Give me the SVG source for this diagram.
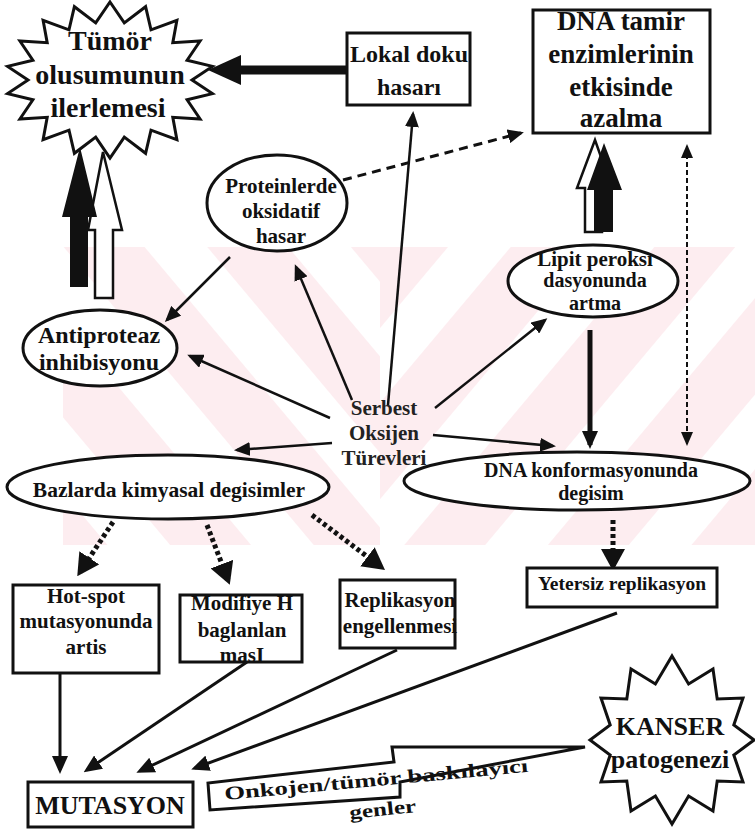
<svg xmlns="http://www.w3.org/2000/svg" width="755" height="835" viewBox="0 0 755 835">
<defs>
<style>
.t{font-family:"Liberation Serif","Times New Roman",serif;font-weight:bold;fill:#111;text-anchor:middle}
.ts{text-anchor:start}
.g2{fill:#222}
.sh{fill:#fff;stroke:#111;stroke-width:3}
.ln{fill:none;stroke:#111;stroke-width:2.5;marker-end:url(#ah)}
.dot{fill:none;stroke:#111;stroke-width:5;stroke-dasharray:4 3;marker-end:url(#ahb)}
</style>
<marker id="ah" viewBox="0 0 16 14" refX="13" refY="7" markerWidth="16" markerHeight="14" markerUnits="userSpaceOnUse" orient="auto"><path d="M0,0 L16,7 L0,14 z" fill="#111"/></marker>
<marker id="ahm" viewBox="0 0 18 16" refX="14" refY="8" markerWidth="18" markerHeight="16" markerUnits="userSpaceOnUse" orient="auto"><path d="M0,0 L18,8 L0,16 z" fill="#111"/></marker>
<marker id="ahd" viewBox="0 0 14 12" refX="12" refY="6" markerWidth="14" markerHeight="12" markerUnits="userSpaceOnUse" orient="auto-start-reverse"><path d="M0,0 L14,6 L0,12 z" fill="#111"/></marker>
<marker id="ahb" viewBox="0 0 22 24" refX="17" refY="12" markerWidth="22" markerHeight="24" markerUnits="userSpaceOnUse" orient="auto"><path d="M0,0 L22,12 L0,24 z" fill="#111"/></marker>
<pattern id="wmL" width="110" height="110" patternUnits="userSpaceOnUse" patternTransform="rotate(-40)"><rect width="62" height="110" fill="#fdedf0"/></pattern>
<pattern id="wmR" width="110" height="110" patternUnits="userSpaceOnUse" patternTransform="rotate(40)"><rect width="62" height="110" fill="#fdedf0"/></pattern>
</defs>
<rect width="755" height="835" fill="#fff"/>
<g id="watermark">
<rect x="63" y="247" width="317" height="298" fill="url(#wmL)"/>
<rect x="380" y="247" width="375" height="298" fill="url(#wmR)"/>
</g>

<g id="connectors">
<line x1="347" y1="70" x2="236" y2="70" stroke="#111" stroke-width="9"/>
<polygon points="208,70 241,55 241,85" fill="#111"/>
<line class="ln" x1="388" y1="405" x2="413" y2="114"/>
<line class="ln" x1="352" y1="400" x2="296" y2="267"/>
<line class="ln" x1="230" y1="257" x2="167" y2="320"/>
<line class="ln" x1="330" y1="418" x2="190" y2="356"/>
<line class="ln" x1="332" y1="443" x2="237" y2="450"/>
<line class="ln" x1="435" y1="408" x2="545" y2="320"/>
<line class="ln" x1="433" y1="435" x2="553" y2="446"/>
<line x1="590" y1="330" x2="590" y2="445" stroke="#111" stroke-width="5" marker-end="url(#ahm)"/>
<line x1="343" y1="180" x2="521" y2="133" stroke="#111" stroke-width="3" stroke-dasharray="9 6" marker-end="url(#ah)"/>
<line x1="687" y1="146" x2="687" y2="444" stroke="#111" stroke-width="2" stroke-dasharray="5 3" marker-start="url(#ahd)" marker-end="url(#ahd)"/>
<line class="dot" x1="113" y1="522" x2="80" y2="572"/>
<line class="dot" x1="207" y1="525" x2="228" y2="580"/>
<line class="dot" x1="312" y1="515" x2="381" y2="567"/>
<line class="dot" x1="613" y1="520" x2="613" y2="566"/>
<line x1="60" y1="673" x2="60" y2="770" stroke="#111" stroke-width="3" marker-end="url(#ahm)"/>
<line x1="247" y1="662" x2="87" y2="770" stroke="#111" stroke-width="3" marker-end="url(#ahm)"/>
<line x1="397" y1="650" x2="140" y2="771" stroke="#111" stroke-width="3" marker-end="url(#ahm)"/>
<line x1="617" y1="613" x2="195" y2="768" stroke="#111" stroke-width="3" marker-end="url(#ahm)"/>
<polygon points="103,152 122,230 113,230 113,298 95,298 95,230 88,230" fill="#fff" stroke="#111" stroke-width="2.5"/>
<polygon points="80,147 97,217 88,217 88,287 70,287 70,217 62,217" fill="#111"/>
<polygon points="595,140 612,188 602,188 602,232 585,232 585,188 577,188" fill="#fff" stroke="#111" stroke-width="2.5"/>
<polygon points="604,143 622,190 613,190 613,232 594,232 594,190 587,190" fill="#111"/>
</g>

<g id="tumor">
<polygon class="sh" points="110,2 124.3,22.9 145.6,6.7 151,29.8 176.9,20.3 172.8,42.7 200.1,41 187.1,60.2 212.4,66.4 192,80 212.4,93.6 187.1,99.8 200.1,119 172.8,117.3 176.9,139.7 151,130.2 145.6,153.3 124.3,137.1 110,158 95.7,137.1 74.4,153.3 69,130.2 43.1,139.7 47.2,117.3 19.9,119 32.9,99.8 7.6,93.6 28,80 7.6,66.4 32.9,60.2 19.9,41 47.2,42.7 43.1,20.3 69,29.8 74.4,6.7 95.7,22.9"/>
<text class="t" x="110" y="50" font-size="28">Tümör</text>
<text class="t" x="110" y="84" font-size="28">olusumunun</text>
<text class="t" x="108" y="117" font-size="28">ilerlemesi</text>
</g>

<g id="lokal">
<rect class="sh" x="347" y="33" width="123" height="72"/>
<text class="t" x="409" y="62" font-size="24">Lokal doku</text>
<text class="t" x="409" y="95" font-size="24">hasarı</text>
</g>

<g id="dnatamir">
<rect class="sh" x="533" y="10" width="177" height="123"/>
<text class="t" x="621" y="30" font-size="27">DNA tamir</text>
<text class="t" x="621" y="63" font-size="27">enzimlerinin</text>
<text class="t" x="621" y="96" font-size="27">etkisinde</text>
<text class="t" x="621" y="127" font-size="27">azalma</text>
</g>

<g id="protein">
<ellipse class="sh" cx="277" cy="203" rx="70" ry="48"/>
<text class="t" x="281" y="193" font-size="21">Proteinlerde</text>
<text class="t" x="281" y="218" font-size="21">oksidatif</text>
<text class="t" x="281" y="243" font-size="21">hasar</text>
</g>

<g id="antiproteaz">
<ellipse class="sh" cx="100" cy="348" rx="77" ry="38"/>
<text class="t" x="99" y="343" font-size="24">Antiproteaz</text>
<text class="t" x="99" y="370" font-size="24">inhibisyonu</text>
</g>

<g id="serbest">
<text class="t g2" x="384" y="415" font-size="21">Serbest</text>
<text class="t g2" x="384" y="440" font-size="21">Oksijen</text>
<text class="t g2" x="384" y="465" font-size="21">Türevleri</text>
</g>

<g id="lipit">
<ellipse class="sh" cx="593" cy="281" rx="85" ry="36"/>
<text class="t" x="595" y="266" font-size="21">Lipit peroksı</text>
<text class="t" x="595" y="287" font-size="20">dasyonunda</text>
<text class="t" x="595" y="310" font-size="20">artma</text>
</g>

<g id="dnakonf">
<ellipse class="sh" cx="577" cy="481" rx="173" ry="29"/>
<text class="t" x="591" y="477" font-size="20">DNA konformasyonunda</text>
<text class="t" x="591" y="500" font-size="20">degisim</text>
</g>

<g id="bazlarda">
<ellipse class="sh" cx="168" cy="487" rx="161" ry="32"/>
<text class="t" x="169" y="497" font-size="21.5">Bazlarda kimyasal degisimler</text>
</g>

<g id="hotspot">
<rect class="sh" x="13" y="585" width="146" height="88"/>
<text class="t" x="86" y="603" font-size="21">Hot-spot</text>
<text class="t" x="86" y="628" font-size="21">mutasyonunda</text>
<text class="t" x="86" y="654" font-size="21">artis</text>
</g>

<g id="modifiye">
<rect class="sh" x="180" y="595" width="122" height="67"/>
<text class="t" x="242" y="610" font-size="21">Modifiye H</text>
<text class="t" x="242" y="637" font-size="21">baglanlan</text>
<text class="t" x="242" y="662" font-size="21">masI</text>
</g>

<g id="replikasyon">
<rect class="sh" x="340" y="580" width="115" height="68"/>
<text class="t" x="400" y="607" font-size="21">Replikasyon</text>
<text class="t" x="400" y="633" font-size="21">engellenmesi</text>
</g>

<g id="yetersiz">
<rect class="sh" x="527" y="568" width="190" height="39"/>
<text class="t" x="622" y="590" font-size="19.5">Yetersiz replikasyon</text>
</g>

<g id="mutasyon">
<rect class="sh" x="28" y="782" width="165" height="45"/>
<text class="t" x="110" y="814" font-size="26">MUTASYON</text>
</g>

<g id="onkojen">
<polygon class="sh" points="585,747 392,747 394,762 208,783 210,810 400,797 400,782 585,747"/>
<text class="t ts" x="225" y="800" font-size="19" textLength="305" lengthAdjust="spacingAndGlyphs" transform="rotate(-5.3 225 800)">Onkojen/tümör baskılayıcı</text>
<text class="t ts" x="350" y="819" font-size="19" textLength="67" lengthAdjust="spacingAndGlyphs" transform="rotate(-6 350 819)">genler</text>
</g>

<g id="kanser">
<polygon class="sh" points="672,656 688.6,684 713,669 717.2,699 743,698 733.8,725 754,740 733.8,755 743,782 717.2,781 713,811 688.6,796 672,824 655.4,796 631,811 626.8,781 601,782 610.2,755 590,740 610.2,725 601,698 626.8,699 631,669 655.4,684"/>
<text class="t" x="670" y="735" font-size="26">KANSER</text>
<text class="t" x="670" y="768" font-size="26">patogenezi</text>
</g>
</svg>
